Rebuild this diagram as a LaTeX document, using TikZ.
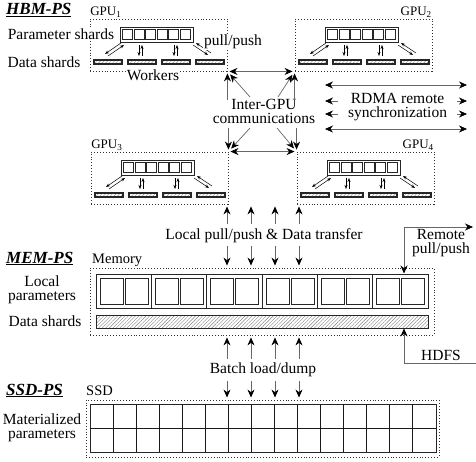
\documentclass[tikz,border=0pt]{standalone}
\usepackage{fontspec}
\setmainfont{Liberation Serif}
\usetikzlibrary{arrows.meta,patterns.meta}
\newcommand\gpublock[3]{%
\begin{scope}[shift={(#2,#3)}]
\node[gpubox] (#1) at (68.5,26) {};
\node[parbox] (#1p) at (66.5,15.5) {};
\foreach \k in {0,...,5} \node[cell] (#1c\k) at (37.75+11.5*\k,15.5) {};
\foreach \k/\xx in {1/18,2/52,3/86,4/120} \node[wbar] (#1w\k) at (\xx,43) {};
\draw[sarr] (31,24) -- (15,35);
\draw[sarr] (18,37) -- (34,26);
\draw[sarr] (49,26) -- (49,37);
\draw[sarr] (52,37) -- (52,26);
\draw[sarr] (84,26) -- (84,37);
\draw[sarr] (87,37) -- (87,26);
\draw[sarr] (103,26) -- (118,36);
\draw[sarr] (121,34) -- (106,24);
\end{scope}}
\begin{document}
\begin{tikzpicture}[x=1pt,y=-1pt,
 every node/.style={font=\fontsize{15.5}{14}\selectfont, inner sep=1pt},
 gpubox/.style={draw=black!80, dotted, line width=0.9pt, minimum width=137pt, minimum height=52pt, inner sep=0pt},
 dotbox/.style={draw=black!80, dotted, line width=0.9pt, inner sep=0pt},
 parbox/.style={draw=black!85, line width=0.9pt, fill=white, minimum width=73pt, minimum height=15pt, inner sep=0pt},
 cell/.style={draw=black!85, line width=0.7pt, minimum width=10pt, minimum height=10pt, inner sep=0pt},
 wbar/.style={draw=black!85, line width=1.8pt, pattern={Lines[angle=45,distance=2.5pt,line width=0.4pt]}, pattern color=black!45, minimum width=28.2pt, minimum height=4.2pt, inner sep=0pt},
 mshard/.style={draw=black!85, line width=0.9pt, pattern={Lines[angle=45,distance=2.5pt,line width=0.4pt]}, pattern color=black!50, inner sep=0pt},
 msq/.style={draw=black!85, line width=0.7pt, minimum width=23pt, minimum height=26pt, inner sep=0pt},
 sarr/.style={-{Stealth[length=4pt,width=3pt]}, line width=0.5pt},
 arr/.style={-{Stealth[length=8pt,width=7pt,color=black]}, draw=black!60, line width=0.7pt},
 darr/.style={{Stealth[length=8pt,width=7pt,color=black]}-{Stealth[length=8pt,width=7pt,color=black]}, draw=black!60, line width=0.7pt},
 lbl/.style={fill=white, align=center},
 title/.style={font=\fontsize{17}{17}\selectfont\bfseries\itshape, anchor=base west},
 gpulbl/.style={font=\fontsize{13}{13}\selectfont, inner sep=0.5pt},
 memlbl/.style={font=\fontsize{14.5}{14.5}\selectfont, anchor=base west}
]
\useasboundingbox (0,0) rectangle (476,462);

% titles
\node[title] (thbm) at (5,15) {\underline{HBM-PS}};
\node[title] (tmem) at (5,263) {\underline{MEM-PS}};
\node[title] (tssd) at (5,395) {\underline{SSD-PS}};

% GPUs
\gpublock{g1}{90}{19}
\gpublock{g2}{295}{19}
\gpublock{g3}{91}{152}
\gpublock{g4}{297}{152}
\node[gpulbl, anchor=south west] (l1) at (g1.north west) {GPU\textsubscript{1}};
\node[gpulbl, anchor=south east] (l2) at (g2.north east) {GPU\textsubscript{2}};
\node[gpulbl, anchor=south west] (l3) at (g3.north west) {GPU\textsubscript{3}};
\node[gpulbl, anchor=south east] (l4) at (g4.north east) {GPU\textsubscript{4}};

\node[lbl] (ps) at (61,34) {Parameter shards};
\node[lbl] (dsh) at (44,62) {Data shards};
\node[lbl] (wk) at (153,75) {Workers};
\node[lbl] (pp) at (233,42) {pull/push};

% inter-GPU
\node[align=center] (igc) at (264,111) {Inter-GPU\\communications};
\coordinate (vtop) at (0,100);
\coordinate (vbot) at (0,128);
\coordinate (it1) at (250,97);
\coordinate (it2) at (278,97);
\coordinate (ib1) at (250,128);
\coordinate (ib2) at (277,128);
\draw[darr, shorten <=2pt, shorten >=2pt] (g1.south east) -- (g2.south west);
\draw[darr, shorten <=2pt, shorten >=2pt] (g3.north east) -- (g4.north west);
\draw[arr, shorten >=2pt] (g1.south east |- vtop) -- (g1.south east);
\draw[arr, shorten >=2pt] (g2.south west |- vtop) -- (g2.south west);
\draw[arr, shorten >=2pt] (g3.north east |- vbot) -- (g3.north east);
\draw[arr, shorten >=2pt] (g4.north west |- vbot) -- (g4.north west);
\draw[arr, shorten >=4pt] (it1) -- (g1.south east);
\draw[arr, shorten >=4pt] (it2) -- (g2.south west);
\draw[arr, shorten >=4pt] (ib1) -- (g3.north east);
\draw[arr, shorten >=4pt] (ib2) -- (g4.north west);

% RDMA
\foreach \yy [count=\n] in {85,101,114,129} {
  \coordinate (ra\n) at (325,\yy);
  \coordinate (rb\n) at (467,\yy);
  \draw[darr] (ra\n) -- (rb\n);
}
\node[lbl, minimum width=119pt, inner sep=0pt] (rdma) at (397.5,107.5) {RDMA remote\\synchronization};

% memory
\node[memlbl] (meml) at (91,263) {Memory};
\node[dotbox, minimum width=344pt, minimum height=67pt] (mem) at (262,301.5) {};
\node[draw=black!85, line width=1pt, minimum width=332pt, minimum height=34pt, inner sep=0pt] (lp) at (262,291) {};
\foreach \k in {1,...,5} \draw[black!85, line width=0.7pt] ({96+55.33*\k},274) -- ({96+55.33*\k},308);
\foreach \k in {0,...,5} {
  \node[msq] (sa\k) at ({96+55.33*\k+15.5},291) {};
  \node[msq] (sb\k) at ({96+55.33*\k+40.5},291) {};
}
\node[mshard, minimum width=332pt, minimum height=13pt] (mds) at (262,321.5) {};
\node[align=center] (lpl) at (42,290) {Local\\parameters};
\node (mdl) at (45,321) {Data shards};

% local pull/push
\node (lpp) at (264,236) {Local pull/push \& Data transfer};
\foreach \xx in {227,251,275,299} {
  \draw[arr, shorten <=4pt, shorten >=2pt] ({\xx},0 |- lpp.north) -- ({\xx},0 |- g3.south);
  \draw[arr, shorten <=2pt, shorten >=2pt] ({\xx},0 |- lpp.south) -- ({\xx},0 |- mem.north);
}

% remote pull/push
\coordinate (rpc) at (404,227);
\coordinate (rpe) at (473,227);
\draw[darr] (rpe) -- (rpc) -- (rpc |- lp.north);
\node[align=center] (rpl) at (441,243) {Remote\\pull/push};

% HDFS
\coordinate (hd) at (476,363);
\draw[arr] (hd) -- (hd -| rpc) -- (rpc |- mds.south);
\node[anchor=base] (hdfs) at (441,360) {HDFS};

% batch
\node (bld) at (263,370) {Batch load/dump};
\node[memlbl] (ssdl) at (85,395) {SSD};
\node[dotbox, minimum width=353pt, minimum height=57pt] (ssd) at (262.5,428.5) {};
\foreach \xx in {227,251,275,299} {
  \draw[arr, shorten <=3pt, shorten >=2pt] ({\xx},0 |- bld.north) -- ({\xx},0 |- mem.south);
  \draw[arr, shorten <=3pt, shorten >=2pt] ({\xx},0 |- bld.south) -- ({\xx},0 |- ssd.north);
}
\node[draw=black!85, line width=0.9pt, minimum width=346pt, minimum height=48pt, inner sep=0pt] (grid) at (263,428) {};
\foreach \k in {1,...,14} \draw[black!90, line width=0.9pt] ({90+346/15*\k},404) -- ({90+346/15*\k},452);
\draw[black!90, line width=0.9pt] (grid.west) -- (grid.east);
\node[align=center] (matl) at (42,428) {Materialized\\parameters};
\end{tikzpicture}
\end{document}
